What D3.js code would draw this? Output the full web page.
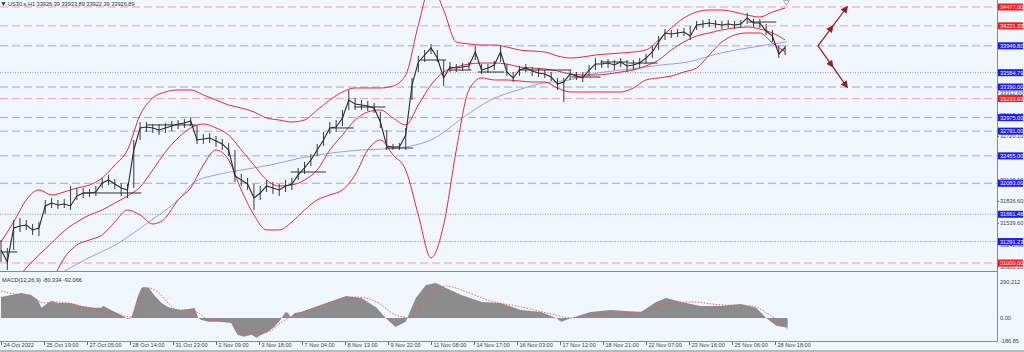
<!DOCTYPE html>
<html>
<head>
<meta charset="utf-8">
<script src="https://cdn.jsdelivr.net/npm/d3@7/dist/d3.min.js"></script>
<style>
body { margin: 0; background: #fff; }
svg { display: block; font-family: "Liberation Sans", Arial, sans-serif; }
</style>
</head>
<body>
<div id="chart"></div>
<script>
// US30 H1 price, one sample every 5 bars
var candleStep = 5;
var closes = [31177,31014,31476,31503,31516,31449,31476,31775,31815,31788,31802,31775,31910,31951,31951,31965,32087,32128,32073,32019,
  31992,32535,32834,32847,32834,32807,32834,32861,32888,32902,32929,32671,32684,32698,32657,32617,32535,32182,32128,32073,
  31883,31951,32046,32019,31992,32046,32073,32196,32291,32399,32535,32671,32834,32847,32970,33214,33160,33146,33133,33105,
  32915,32589,32576,32576,32739,33418,33730,33825,33920,33784,33513,33662,33649,33662,33676,33866,33621,33649,33689,33866,
  33594,33513,33621,33649,33608,33581,33567,33526,33431,33458,33567,33540,33513,33621,33703,33703,33716,33689,33730,33676,
  33689,33716,33784,33866,34002,34124,34110,34124,34137,34083,34232,34246,34260,34246,34232,34246,34232,34246,34328,34260,
  34260,34151,34083,33839,33927];
var highs = [31313,31204,31584,31612,31584,31530,31557,31856,31883,31856,31870,32046,32019,32019,32005,32046,32155,32196,32141,32087,
  32073,32671,32915,32915,32888,32888,32902,32929,32942,32956,32983,32875,32752,32766,32725,32684,32630,32535,32209,32155,
  32073,32046,32128,32100,32073,32128,32155,32291,32372,32481,32617,32779,32915,32942,33078,33350,33241,33214,33200,33173,
  33051,32807,32617,32630,32834,33513,33812,33893,33975,33893,33757,33730,33703,33716,33730,33947,33703,33703,33744,33947,
  33703,33594,33676,33703,33662,33649,33621,33594,33513,33513,33621,33594,33594,33689,33784,33757,33771,33757,33784,33757,
  33757,33784,33839,33947,34083,34178,34165,34178,34192,34219,34287,34300,34314,34300,34287,34300,34287,34300,34395,34314,
  34314,34246,34165,33961,33947];
var lows = [31014,30905,31177,31421,31449,31381,31367,31666,31747,31734,31747,31720,31856,31883,31897,31910,32019,32060,32005,31910,
  31883,32019,32671,32779,32766,32739,32766,32793,32820,32834,32861,32617,32617,32630,32576,32535,32454,32100,32046,31992,
  31720,31856,31965,31938,31910,31965,31992,32128,32209,32318,32454,32589,32752,32779,32861,33078,33078,33078,33065,33037,
  32834,32535,32535,32535,32535,33214,33594,33730,33839,33730,33404,33594,33594,33608,33621,33757,33567,33581,33621,33730,
  33540,33458,33540,33594,33540,33526,33513,33472,33350,33187,33486,33486,33458,33540,33621,33649,33649,33621,33662,33594,
  33621,33649,33703,33784,33893,34029,34056,34070,34083,34029,34165,34192,34205,34192,34178,34192,34178,34192,34246,34205,
  34192,34097,34002,33784,33825];

// Bollinger bands (20,2), one sample every 10 bars
var bandStep = 10;
var bandUpper = [31286,31557,31856,31992,31924,31965,32019,32060,32155,32331,32535,33011,33241,33323,33350,33350,33282,33214,33146,33105,
  33051,32970,32942,32915,32942,33078,33214,33323,33377,33377,33377,33404,33554,34232,34776,34436,34002,33975,33961,33961,
  33934,33893,33879,33866,33812,33784,33798,33825,33839,33852,33866,33893,34029,34192,34328,34409,34436,34436,34409,34368,
  34341,34409,34463];
var bandMiddle = [30566,30729,30933,31109,31272,31435,31557,31652,31720,31815,31910,32033,32263,32508,32698,32834,32888,32834,32739,32535,
  32331,32128,32046,32060,32128,32263,32535,32739,32942,33051,33078,32970,32875,33146,33418,33594,33662,33703,33716,33716,
  33703,33662,33649,33635,33608,33567,33554,33554,33567,33594,33621,33676,33757,33893,34002,34083,34124,34165,34192,34205,
  34178,34124,34029];
var bandLower = [29683,29887,30091,30430,30742,31068,31245,31313,31381,31557,31720,31652,31530,31612,31856,32019,32331,32535,32399,31992,
  31652,31449,31449,31557,31720,31856,31924,31992,32196,32535,32671,32467,32263,31652,31068,31516,32535,33350,33513,33486,
  33486,33472,33458,33458,33377,33323,33323,33323,33323,33323,33377,33486,33513,33540,33594,33649,33825,34002,34097,34124,
  34124,33988,33866];

// slow moving average
var maIdx = [41,66,93,119,140,153,170,190,213,237,261,285,304,324,340,366,387,409,429,445,472,498,522,543,569,595,621];
var maValues = [30797,31041,31272,31584,31856,32100,32196,32263,32331,32426,32494,32535,32549,32589,32671,32983,33214,33350,33445,33472,
  33581,33635,33689,33730,33852,33934,34002];

// black horizontal segments: [from bar, to bar, price]
var segments = [[0,13,31150],[65,111,31951],[115,154,32875],[229,257,32236],[261,279,32834],[279,304,33119],[304,326,32562],
  [332,352,33757],[354,372,33621],[377,398,33594],[409,451,33621],[451,474,33526],[474,496,33730],[496,519,33716],[591,613,34273]];

// horizontal levels
var levelPrices = [34477.00,34221.33,33949.80,33584.79,33390.00,33233.63,32975.00,32791.00,32455.00,32083.00,31661.46,31291.23,31000.00];
var levelKinds = ["red","red","blue","dot","blue","red","blue","blue","blue","blue","dot","dot","red"];
var axisTicks = [33312.60,33015.10,32720.10,32129.10,31836.60,31539.60,31248.60,30950.10];

// MACD
var histIdx = [0,8,16,24,29,32,37,40,45,53,58,63,74,79,81,87,95,99,100,103,105,108,111,113,117,121,127,132,137,142,150,153,156,158,164,
  172,182,184,187,192,198,202,206,211,216,221,225,227,229,232,237,253,273,285,297,304,312,320,328,336,344,352,364,380,395,411,427,
  439,443,451,466,482,506,518,526,538,553,569,585,597,605,613,622];
var histValues = [169,185,202,185,145,81,121,137,121,121,113,97,81,81,97,64,24,0,-8,0,64,169,242,250,242,185,121,89,73,64,73,81,0,-16,-32,
  -32,-40,-81,-137,-153,-137,-161,-137,-113,-73,-16,48,40,8,40,48,105,177,161,81,0,-73,-32,161,266,282,242,185,129,121,64,48,
  0,-32,0,48,64,48,129,161,129,97,97,113,81,0,-64,-80];
var signalIdx = [0,6,16,26,34,42,53,66,79,89,103,108,116,124,132,140,148,156,164,172,182,190,200,211,221,229,237,261,281,297,312,324,
  336,352,368,387,411,435,451,474,506,526,546,569,593,609,622];
var signalValues = [218,202,185,161,121,129,121,89,64,40,8,121,242,210,121,64,64,40,-16,-24,-40,-81,-121,-113,-40,8,40,129,169,129,24,0,
  169,258,210,137,89,32,0,32,48,113,129,105,97,16,-92];

// time axis
var timeTickIdx = [0,34,68,102,136,170,204,238,272,306,340,374,408,442,476,510,544,578,612];
var timeLabels = ["24 Oct 2022","25 Oct 19:00","27 Oct 05:00","28 Oct 14:00","31 Oct 23:00","2 Nov 09:00","3 Nov 18:00","7 Nov 04:00",
  "8 Nov 13:00","9 Nov 22:00","11 Nov 08:00","14 Nov 17:00","16 Nov 03:00","17 Nov 12:00","18 Nov 21:00","22 Nov 07:00",
  "23 Nov 16:00","25 Nov 06:00","28 Nov 18:00"];

// scenario arrows: start bar/price, end bar, target prices
var arrowFrom = [646, 33949.80];
var arrowTargets = [[669, 34477.00], [669, 33390.00]];

var W = 1024, H = 352, plotRight = 997, mainBottom = 271, macdTop = 273, macdBottom = 341;
var fontSize = "5.6px";

var svg = d3.select("#chart").append("svg").attr("width", W).attr("height", H);

svg.append("rect").attr("width", W).attr("height", H).attr("fill", "#eff6fd");

var x = d3.scaleLinear().domain([0, 34]).range([1, 44]);
var y = d3.scaleLinear().domain([31000, 34477]).range([263, 7]);
var yM = d3.scaleLinear().domain([-186.85, 290.212]).range([341, 282]);

svg.append("clipPath").attr("id", "clipMain").append("rect")
  .attr("x", 0).attr("y", 0).attr("width", plotRight).attr("height", mainBottom);
svg.append("clipPath").attr("id", "clipMacd").append("rect")
  .attr("x", 0).attr("y", macdTop).attr("width", plotRight).attr("height", macdBottom - macdTop);

var main = svg.append("g").attr("clip-path", "url(#clipMain)");

// levels
var levelColor = { red: "#f4a3a8", blue: "#a3a3f0", dot: "#8d8df0" };
main.selectAll("line.level").data(levelPrices).enter().append("line")
  .attr("class", "level")
  .attr("x1", 0).attr("x2", plotRight)
  .attr("y1", function (d) { return y(d); })
  .attr("y2", function (d) { return y(d); })
  .attr("stroke", function (d, i) { return levelColor[levelKinds[i]]; })
  .attr("stroke-width", 1)
  .attr("stroke-dasharray", function (d, i) { return levelKinds[i] === "dot" ? "1,1.5" : "8,4"; });

// moving average
main.append("path")
  .datum(maIdx)
  .attr("fill", "none").attr("stroke", "#9c9cf6").attr("stroke-width", 1)
  .attr("d", d3.line().curve(d3.curveMonotoneX)
    .x(function (d) { return x(d); })
    .y(function (d, i) { return y(maValues[i]); }));

// bollinger bands
[bandUpper, bandMiddle, bandLower].forEach(function (band) {
  main.append("path")
    .datum(band)
    .attr("fill", "none").attr("stroke", "#f0282d").attr("stroke-width", 1)
    .attr("d", d3.line().curve(d3.curveMonotoneX)
      .x(function (d, i) { return x(i * bandStep); })
      .y(function (d) { return y(d); }));
});

// price: wicks plus close line
main.selectAll("line.wick").data(closes).enter().append("line")
  .attr("class", "wick")
  .attr("x1", function (d, i) { return x(i * candleStep); })
  .attr("x2", function (d, i) { return x(i * candleStep); })
  .attr("y1", function (d, i) { return y(highs[i]); })
  .attr("y2", function (d, i) { return y(lows[i]); })
  .attr("stroke", "#3a3a3a").attr("stroke-width", 1);
main.append("path")
  .datum(closes)
  .attr("fill", "none").attr("stroke", "#2a2a2a").attr("stroke-width", 1.1)
  .attr("d", d3.line()
    .x(function (d, i) { return x(i * candleStep); })
    .y(function (d) { return y(d); }));

// horizontal segments
main.selectAll("line.seg").data(segments).enter().append("line")
  .attr("class", "seg")
  .attr("x1", function (d) { return x(d[0]); })
  .attr("x2", function (d) { return x(d[1]); })
  .attr("y1", function (d) { return y(d[2]); })
  .attr("y2", function (d) { return y(d[2]); })
  .attr("stroke", "#333").attr("stroke-width", 1);

// scenario arrows
var defs = svg.append("defs");
defs.append("marker").attr("id", "arrowHead")
  .attr("viewBox", "0 0 10 10").attr("refX", 8).attr("refY", 5)
  .attr("markerWidth", 6).attr("markerHeight", 6).attr("orient", "auto")
  .append("path").attr("d", "M0,0L10,5L0,10z").attr("fill", "#9b1b1b");
arrowTargets.forEach(function (t) {
  var mid = [(arrowFrom[0] + t[0]) / 2, (arrowFrom[1] + t[1]) / 2];
  main.append("path")
    .attr("d", d3.line()([[x(arrowFrom[0]), y(arrowFrom[1])], [x(mid[0]), y(mid[1])], [x(t[0]), y(t[1])]]))
    .attr("fill", "none").attr("stroke", "#9b1b1b").attr("stroke-width", 1.2)
    .attr("marker-mid", "url(#arrowHead)")
    .attr("marker-end", "url(#arrowHead)");
});

// shift marker at top
svg.append("path")
  .attr("d", d3.symbol().type(d3.symbolTriangle).size(14)())
  .attr("transform", "translate(" + x(621) + ",2) rotate(180)")
  .attr("fill", "none").attr("stroke", "#999").attr("stroke-width", 0.8);

// MACD panel
var macd = svg.append("g").attr("clip-path", "url(#clipMacd)");
macd.append("path")
  .datum(histIdx)
  .attr("fill", "#8c8c8c")
  .attr("d", d3.area()
    .x(function (d) { return x(d); })
    .y0(yM(0))
    .y1(function (d, i) { return yM(histValues[i]); }));
macd.append("path")
  .datum(signalIdx)
  .attr("fill", "none").attr("stroke", "#e8585c").attr("stroke-width", 0.9)
  .attr("stroke-dasharray", "1.5,1.5")
  .attr("d", d3.line().curve(d3.curveMonotoneX)
    .x(function (d) { return x(d); })
    .y(function (d, i) { return yM(signalValues[i]); }));

// frames
svg.append("line").attr("x1", 0).attr("x2", plotRight + 1).attr("y1", mainBottom + 0.5).attr("y2", mainBottom + 0.5)
  .attr("stroke", "#8a8a8a");
svg.append("line").attr("x1", 0).attr("x2", plotRight + 1).attr("y1", macdBottom + 0.5).attr("y2", macdBottom + 0.5)
  .attr("stroke", "#8a8a8a");
svg.append("line").attr("x1", plotRight + 0.5).attr("x2", plotRight + 0.5).attr("y1", 0).attr("y2", macdBottom + 1)
  .attr("stroke", "#8a8a8a");
svg.append("rect").attr("x", 0).attr("y", 350).attr("width", W).attr("height", 2).attr("fill", "#b9b9b9");

// price axis ticks
var priceAxis = svg.append("g");
priceAxis.selectAll("text").data(axisTicks).enter().append("text")
  .attr("x", plotRight + 3).attr("y", function (d) { return y(d); }).attr("dy", "0.35em")
  .attr("font-size", fontSize).attr("fill", "#444")
  .text(function (d) { return d.toFixed(2); });
priceAxis.selectAll("line").data(axisTicks).enter().append("line")
  .attr("x1", plotRight).attr("x2", plotRight + 2)
  .attr("y1", function (d) { return y(d); }).attr("y2", function (d) { return y(d); })
  .attr("stroke", "#666");

// level labels
var labelFill = { red: "#ff1a1a", blue: "#1a1aff", dot: "#1a1aff" };
var lab = svg.append("g").selectAll("g").data(levelPrices).enter().append("g")
  .attr("transform", function (d) { return "translate(" + (plotRight + 1) + "," + y(d) + ")"; });
lab.append("rect").attr("x", 0).attr("y", -3.5).attr("width", 25).attr("height", 7)
  .attr("fill", function (d, i) { return labelFill[levelKinds[i]]; });
lab.append("text").attr("x", 2).attr("dy", "0.35em")
  .attr("font-size", fontSize).attr("fill", "#fff")
  .text(function (d) { return d.toFixed(2); });

// MACD axis labels
var macdTicks = [290.212, 0, -186.85];
var macdLabels = ["290.212", "0.00", "-186.85"];
svg.append("g").selectAll("text").data(macdTicks).enter().append("text")
  .attr("x", plotRight + 3).attr("y", function (d) { return yM(d); }).attr("dy", "0.35em")
  .attr("font-size", fontSize).attr("fill", "#444")
  .text(function (d, i) { return macdLabels[i]; });

// time axis
var xAxis = svg.append("g").attr("transform", "translate(0," + (macdBottom + 1) + ")")
  .call(d3.axisBottom(x).tickValues(timeTickIdx).tickSize(3)
    .tickFormat(function (d, i) { return timeLabels[i]; }));
xAxis.select(".domain").remove();
xAxis.selectAll(".tick line").attr("stroke", "#666");
xAxis.selectAll(".tick text")
  .attr("text-anchor", "start").attr("x", 2).attr("y", 1.5).attr("dy", "0.71em")
  .attr("font-size", fontSize).attr("font-family", "Liberation Sans, Arial, sans-serif").attr("fill", "#444");

// titles
svg.append("path")
  .attr("d", d3.symbol().type(d3.symbolTriangle).size(8)())
  .attr("transform", "translate(3.5,3.5) rotate(180)")
  .attr("fill", "#333");
svg.append("text").attr("x", 8).attr("y", 4).attr("dy", "0.35em")
  .attr("font-size", fontSize).attr("fill", "#333")
  .text("US30.s,H1  33926.39 33933.89 33922.39 33926.89");
svg.append("text").attr("x", 2).attr("y", 280).attr("dy", "0.35em")
  .attr("font-size", fontSize).attr("fill", "#333")
  .text("MACD(12,26,9) -80.334 -92.066");
</script>
</body>
</html>
